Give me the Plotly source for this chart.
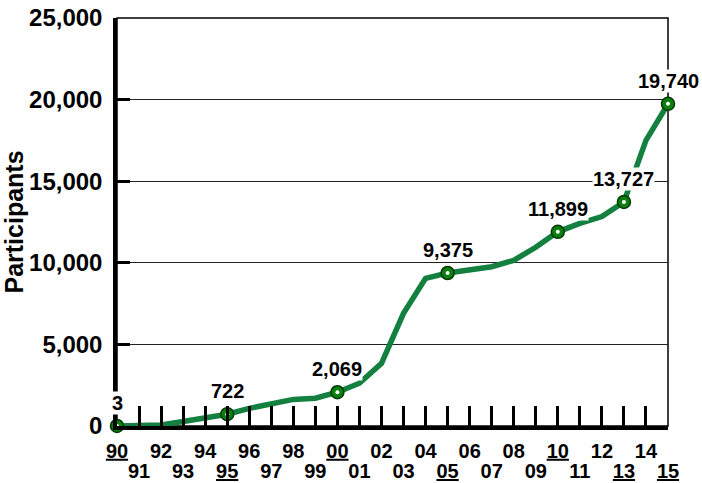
import plotly.graph_objects as go

years = list(range(1990, 2016))
participants = [3, 30, 60, 270, 530, 722, 1080, 1350, 1630, 1700,
                2069, 2620, 3840, 6900, 9050, 9375, 9560, 9760, 10150, 10950,
                11899, 12420, 12830, 13727, 17500, 19740]
labeled_years = [1990, 1995, 2000, 2005, 2010, 2013, 2015]
year_labels = [str(y)[2:] for y in years]
y_title = "Participants"

FONT = "Arial, Liberation Sans, sans-serif"
LINE_COLOR = "#138040"
MARKER_COLOR = "#0c7f10"

lab_vals = [participants[years.index(y)] for y in labeled_years]

def fmt(y, lab):
    return f"<u>{lab}</u>" if y in labeled_years else lab

even_vals = [y for y in years if y % 2 == 0]
even_text = [fmt(y, l) for y, l in zip(years, year_labels) if y % 2 == 0]
odd_vals = [y for y in years if y % 2 == 1]
odd_text = [fmt(y, l) for y, l in zip(years, year_labels) if y % 2 == 1]

fig = go.Figure()
fig.add_trace(go.Scatter(
    x=years, y=participants, mode="lines",
    line=dict(color=LINE_COLOR, width=5.5),
    cliponaxis=False, hoverinfo="skip", showlegend=False))
fig.add_trace(go.Scatter(
    x=labeled_years, y=lab_vals, mode="markers",
    marker=dict(size=13, color=MARKER_COLOR, line=dict(color="#013a01", width=1.5)),
    cliponaxis=False, showlegend=False))
fig.add_trace(go.Scatter(
    x=labeled_years, y=lab_vals, mode="markers", xaxis="x2",
    marker=dict(size=4, color="white", line=dict(width=0)),
    cliponaxis=False, showlegend=False, hoverinfo="skip"))

for x, v in zip(labeled_years, lab_vals):
    fig.add_annotation(
        x=x, y=v, text=f"{v:,}", showarrow=False,
        yanchor="middle", yshift=23, bgcolor="white", borderpad=0,
        font=dict(family=FONT, size=20, color="black", weight="bold"))

fig.add_shape(type="rect", xref="paper", yref="paper", x0=0, x1=1, y0=0, y1=1,
              line=dict(color="black", width=1.5), layer="below")

tickfont = dict(family=FONT, size=20, color="black", weight="bold")

fig.update_layout(
    width=702, height=483,
    margin=dict(l=117, r=34, t=18, b=57, autoexpand=False),
    paper_bgcolor="white", plot_bgcolor="white",
    font=dict(family=FONT, color="black"),
    xaxis=dict(
        range=[1990, 2015], tickmode="array", tickvals=even_vals, ticktext=even_text,
        tickangle=0, ticks="inside", ticklen=20, tickwidth=3, tickcolor="black",
        minor=dict(tickmode="array", tickvals=odd_vals, ticks="inside", ticklen=20,
                   tickwidth=3, tickcolor="black", showgrid=False),
        showline=True, linewidth=3.5, linecolor="black", showgrid=False,
        zeroline=False, ticklabelstandoff=4, tickfont=tickfont,
    ),
    xaxis2=dict(
        range=[1990, 2015], matches="x", overlaying="x", side="bottom",
        tickmode="array", tickvals=odd_vals, ticktext=odd_text, tickangle=0,
        ticks="", showline=False, showgrid=False, zeroline=False,
        ticklabelstandoff=31, tickfont=tickfont,
    ),
    yaxis=dict(
        range=[0, 25000], tickmode="array", tickvals=[0, 5000, 10000, 15000, 20000, 25000],
        tickformat=",d", ticks="inside", ticklen=13, tickwidth=3, tickcolor="black",
        showline=True, linewidth=3.5, linecolor="black",
        showgrid=True, gridcolor="#222222", gridwidth=1, zeroline=False,
        ticklabelstandoff=6,
        tickfont=dict(family=FONT, size=24, color="black", weight="bold"),
        title=dict(text=y_title, standoff=7,
                   font=dict(family=FONT, size=25, color="black", weight="bold")),
    ),
)

fig.write_html("out.html", config={"displayModeBar": False},
               post_script="document.body.style.margin='0px';")
